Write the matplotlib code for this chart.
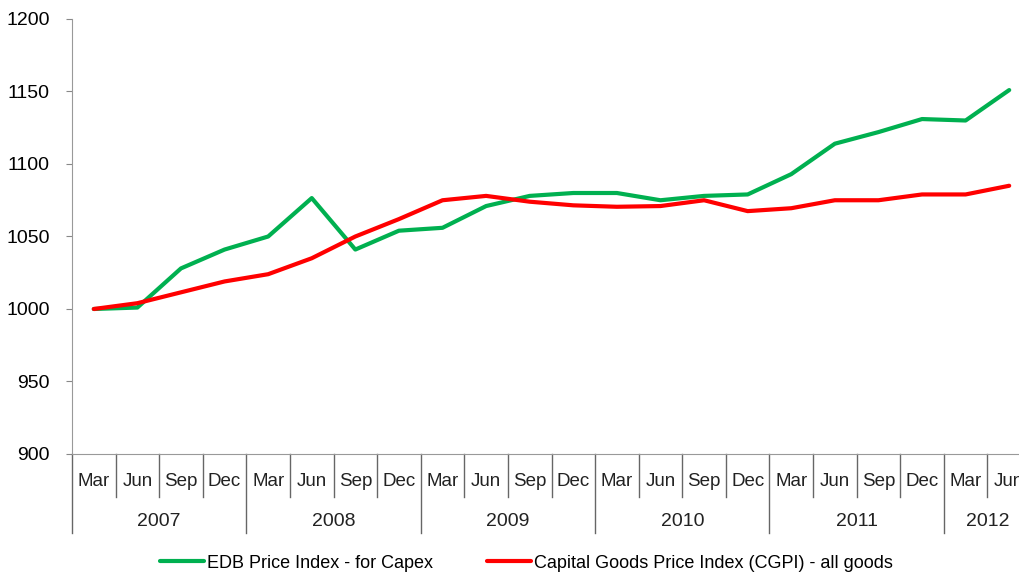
import numpy as np
import matplotlib as mpl
import matplotlib.pyplot as plt
from matplotlib.transforms import blended_transform_factory

mpl.rcParams['font.family'] = ['Liberation Sans', 'DejaVu Sans']

months = ['Mar', 'Jun', 'Sep', 'Dec'] * 5 + ['Mar', 'Jun']
years = ['2007', '2008', '2009', '2010', '2011', '2012']

edb = [1000, 1001, 1028, 1041, 1050, 1076.5, 1041, 1054, 1056, 1071, 1078,
       1080, 1080, 1075, 1078, 1079, 1093, 1114, 1122, 1131, 1130, 1151]
cgpi = [1000, 1004, 1011.5, 1019, 1024, 1035, 1050, 1062, 1075, 1078, 1074,
        1071.5, 1070.5, 1071, 1075, 1067.5, 1069.5, 1075, 1075, 1079, 1079, 1085]

fig = plt.figure(figsize=(10.19, 5.76), dpi=100)
ax = fig.add_axes([72/1019, 122/576, 959/1019, 435/576])

x = np.arange(len(months))
ax.plot(x, edb, color='#00B050', lw=3, label='EDB Price Index - for Capex',
        solid_capstyle='round')
ax.plot(x, cgpi, color='#FF0000', lw=3,
        label='Capital Goods Price Index (CGPI) - all goods', solid_capstyle='round')

ax.set_xlim(-0.5, len(months) - 0.5)
ax.set_ylim(900, 1200)
ax.set_yticks(np.arange(900, 1201, 50))
ax.tick_params(axis='y', labelsize=14, length=4, color='#888888', pad=12)
ax.set_xticks([])

for s in ['top', 'right']:
    ax.spines[s].set_visible(False)
ax.spines['left'].set_color('#999999')
ax.spines['bottom'].set_color('#999999')

# two-level category axis
tr = blended_transform_factory(ax.transData, ax.transAxes)
month_drop = 43 / 435
year_drop = 79 / 435
for k in range(len(months) + 1):
    xs = k - 0.5
    depth = year_drop if k % 4 == 0 else month_drop
    ax.plot([xs, xs], [0, -depth], transform=tr, clip_on=False,
            color='#666666', lw=1)

for i, m in enumerate(months):
    ax.text(i, -28 / 435, m, transform=tr, ha='center', va='center',
            fontsize=13.5, color='#222222')

for j, yr in enumerate(years):
    start = j * 4
    end = min(start + 4, len(months))
    ax.text((start + end - 1) / 2, -68 / 435, yr, transform=tr,
            ha='center', va='center', fontsize=14, color='#222222')

fig.legend(loc='center', bbox_to_anchor=(0.517, 1 - 563/576), ncol=2,
           frameon=False, fontsize=13, handlelength=2.4, handletextpad=0.2,
           columnspacing=3.0)

fig.savefig('out.png', dpi=100)
